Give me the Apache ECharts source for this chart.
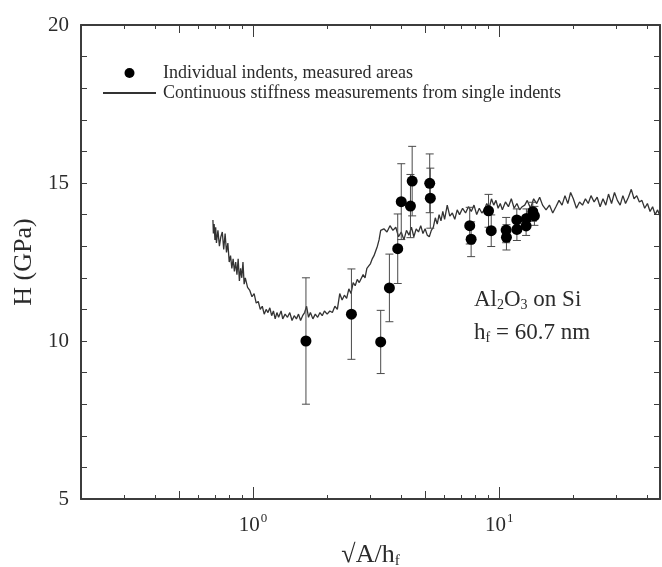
<!DOCTYPE html>
<html>
<head>
<meta charset="utf-8">
<script src="https://cdn.jsdelivr.net/npm/echarts@6/dist/echarts.min.js"></script>
<style>
  html, body { margin: 0; padding: 0; background: #fff; }
  #chart { width: 662px; height: 567px; }
</style>
</head>
<body>
<div id="chart"></div>
<script>
// Individual indents (measured contact areas): sqrt(A)/hf, hardness (GPa), error (GPa)
const indentX   = [1.64, 2.51, 3.30, 3.58, 3.87, 4.00, 4.36, 4.43, 5.22, 5.25, 7.59, 7.69, 9.05, 9.28, 10.67, 10.70, 11.79, 11.80, 12.86, 12.90, 13.69, 13.90];
const indentH   = [10.0, 10.85, 9.97, 11.68, 12.92, 14.41, 14.27, 15.06, 14.99, 14.52, 13.65, 13.22, 14.12, 13.49, 13.51, 13.28, 13.83, 13.53, 13.64, 13.88, 14.09, 13.96];
const indentErr = [2.0, 1.43, 1.0, 1.07, 1.1, 1.2, 1.0, 1.1, 0.93, 0.95, 0.58, 0.55, 0.52, 0.5, 0.4, 0.4, 0.35, 0.35, 0.3, 0.3, 0.3, 0.3];

// Continuous stiffness measurement trace
const csmX = [0.687, 0.69, 0.695, 0.70, 0.705, 0.71, 0.72, 0.73, 0.74, 0.75, 0.76, 0.77, 0.78, 0.79, 0.80, 0.81, 0.82, 0.83, 0.84, 0.85,
  0.86, 0.87, 0.88, 0.89, 0.90, 0.91, 0.92, 0.93, 0.95, 0.97, 0.99, 1.01, 1.03, 1.05, 1.07, 1.09, 1.11, 1.13, 1.15, 1.17,
  1.19, 1.21, 1.23, 1.25, 1.27, 1.30, 1.32, 1.35, 1.38, 1.41, 1.44, 1.47, 1.50, 1.53, 1.56, 1.59, 1.62, 1.65, 1.68, 1.71,
  1.75, 1.79, 1.83, 1.87, 1.91, 1.95, 2.0, 2.05, 2.1, 2.15, 2.2, 2.25, 2.3, 2.35, 2.4, 2.45, 2.5, 2.55, 2.6, 2.65,
  2.7, 2.8, 2.85, 2.9, 3.0, 3.05, 3.1, 3.15, 3.2, 3.25, 3.3, 3.4, 3.5, 3.6, 3.7, 3.8, 3.9, 4.0, 4.1, 4.2,
  4.3, 4.4, 4.5, 4.6, 4.7, 4.8, 4.9, 5.0, 5.1, 5.2, 5.3, 5.4, 5.5, 5.6, 5.7, 5.8, 5.9, 6.0, 6.15, 6.3,
  6.45, 6.6, 6.75, 6.9, 7.1, 7.3, 7.5, 7.7, 7.9, 8.1, 8.3, 8.5, 8.7, 8.9, 9.1, 9.3, 9.5, 9.7, 9.9, 10.1,
  10.3, 10.6, 10.9, 11.2, 11.5, 11.8, 12.1, 12.4, 12.7, 13.0, 13.4, 13.8, 14.2, 14.6, 15.0, 15.5, 16.0, 16.5, 17.0, 17.5,
  18.0, 18.5, 19.0, 19.5, 20.0, 20.6, 21.2, 21.8, 22.4, 23.0, 23.6, 24.3, 25.0, 25.7, 26.4, 27.1, 27.8, 28.6, 29.4, 30.2,
  31.0, 31.8, 32.6, 33.5, 34.4, 35.3, 36.2, 37.1, 38.0, 39.0, 40.0, 41.0, 42.0, 43.0, 44.0, 45.0];
const csmH = [13.83, 13.4, 13.7, 13.2, 13.6, 13.1, 13.5, 13.0, 13.3, 13.45, 12.9, 13.4, 12.8, 13.1, 12.5, 12.7, 12.3, 12.6, 12.2, 12.5,
  12.1, 12.6, 11.9, 12.3, 12.0, 12.5, 11.8, 12.0, 11.7, 11.6, 11.4, 11.5, 11.2, 11.25, 11.0, 11.1, 10.85, 11.0, 10.9, 11.05,
  10.8, 10.95, 10.7, 10.9, 10.75, 10.95, 10.7, 10.85, 10.75, 10.9, 10.65, 10.8, 10.7, 10.85, 10.65, 10.8, 10.9, 11.1, 10.75, 10.9,
  10.7, 10.85, 10.75, 10.9, 10.8, 10.95, 10.85, 10.95, 10.9, 11.1, 11.0, 11.5, 11.3, 11.45, 11.35, 11.65, 11.5, 11.85, 11.75, 11.95,
  11.85, 12.1, 12.0, 12.3, 12.45, 12.6, 12.7, 12.65, 13.0, 13.2, 13.5, 13.55, 13.45, 13.65, 13.5, 13.6, 13.3, 13.45, 13.2, 13.5,
  13.35, 13.6, 13.3, 13.55, 13.45, 13.65, 13.4, 13.55, 13.35, 13.3, 13.5, 13.6, 13.9, 13.7, 14.0, 13.8, 14.1, 13.85, 14.3, 13.95,
  14.05, 13.85, 14.15, 14.0, 14.2, 14.05, 14.25, 14.1, 14.3, 14.0, 14.2, 14.05, 14.15, 14.35, 14.2, 14.5, 14.3, 14.45, 14.2, 14.35,
  14.15, 14.4, 14.25, 14.5, 14.2, 14.35, 14.15, 14.25, 14.3, 14.45, 14.2, 14.5, 14.35, 14.55, 14.3, 14.15, 14.3, 14.05, 14.25, 14.45,
  14.3, 14.6, 14.35, 14.7, 14.5, 14.2, 14.4, 14.3, 14.5, 14.35, 14.6, 14.4, 14.55, 14.25, 14.5, 14.3, 14.65, 14.35, 14.7, 14.45,
  14.3, 14.6, 14.35, 14.55, 14.8, 14.5, 14.6, 14.4, 14.45, 14.2, 14.35, 14.1, 14.25, 14.0, 14.15, 13.95];

// Axis ranges and tick positions
const xRange = [0.2, 45];
const yRange = [5, 20];
const xMajorTicks = [1, 10];
const xMidTicks = [0.5, 5];
const xMinorTicks = [0.3, 0.4, 0.6, 0.7, 0.8, 0.9, 2, 3, 4, 6, 7, 8, 9, 20, 30, 40];

const legendDots = 'Individual indents, measured areas';
const legendLine = 'Continuous stiffness measurements from single indents';

const SERIF = '"Liberation Serif", "Times New Roman", serif';
const INK = '#2b2b2b';
const AXIS = '#3c3c3c';

const indentData = indentX.map((x, i) => [x, indentH[i], indentErr[i]]);
const csmData = csmX.map((x, i) => [x, csmH[i]]);

function logAxis(position, tickLen, ticks, opts) {
  return Object.assign({
    type: 'log', logBase: 10, min: xRange[0], max: xRange[1], position: position,
    gridIndex: 0,
    axisLine: { show: false },
    axisTick: { show: true, inside: true, length: tickLen, customValues: ticks,
      lineStyle: { color: AXIS, width: 1 } },
    axisLabel: { show: false },
    splitLine: { show: false },
    minorTick: { show: false }, minorSplitLine: { show: false }
  }, opts || {});
}

const xAxes = [
  logAxis('bottom', 12, xMajorTicks, {
    axisLine: { show: true, onZero: false, lineStyle: { color: AXIS, width: 2 } },
    axisLabel: {
      show: true, customValues: xMajorTicks, margin: 13,
      formatter: v => '{b|10}{s|' + Math.round(Math.log10(v)) + '}',
      rich: {
        b: { fontFamily: SERIF, fontSize: 21, color: INK },
        s: { fontFamily: SERIF, fontSize: 13, color: INK, padding: [0, 0, 14, 1] }
      }
    },
    name: '{r|√A/h}{f|f}', nameLocation: 'middle', nameGap: 43,
    nameTextStyle: {
      rich: {
        r: { fontFamily: SERIF, fontSize: 26, color: INK },
        f: { fontFamily: SERIF, fontSize: 15, color: INK, padding: [12, 0, 0, 0] }
      }
    }
  }),
  logAxis('bottom', 8, xMidTicks),
  logAxis('bottom', 4, xMinorTicks),
  logAxis('top', 12, xMajorTicks, {
    axisLine: { show: true, onZero: false, lineStyle: { color: AXIS, width: 2 } }
  }),
  logAxis('top', 8, xMidTicks),
  logAxis('top', 4, xMinorTicks)
];

function valAxis(position, withLabels) {
  return {
    type: 'value', min: yRange[0], max: yRange[1], interval: 5, position: position,
    axisLine: { show: true, onZero: false, lineStyle: { color: AXIS, width: 2 } },
    axisTick: { show: true, inside: true, length: 6, lineStyle: { color: AXIS, width: 1 } },
    minorTick: { show: true, splitNumber: 5, length: 6, lineStyle: { color: AXIS, width: 1 } },
    axisLabel: { show: withLabels, fontFamily: SERIF, fontSize: 21, color: INK, margin: 12 },
    splitLine: { show: false },
    name: withLabels ? 'H (GPa)' : '', nameLocation: 'middle', nameGap: 39,
    nameTextStyle: { fontFamily: SERIF, fontSize: 26, color: INK }
  };
}

const chart = echarts.init(document.getElementById('chart'), null, { renderer: 'canvas' });

chart.setOption({
  backgroundColor: '#ffffff',
  animation: false,
  grid: { left: 81, right: 2, top: 25, bottom: 68, containLabel: false, outerBoundsMode: 'none' },
  xAxis: xAxes,
  yAxis: [valAxis('left', true), valAxis('right', false)],
  legend: {
    orient: 'vertical', left: 97, top: 59,
    itemWidth: 53, itemHeight: 10, itemGap: 2,
    data: [
      { name: legendDots },
      { name: legendLine, itemStyle: { opacity: 0, borderWidth: 0 } }
    ],
    textStyle: { fontFamily: SERIF, fontSize: 18, color: INK, padding: [0, 0, 0, 2] },
    selectedMode: false
  },
  graphic: [
    {
      type: 'text', left: 474, top: 287,
      style: {
        text: '{t|Al}{d|2}{t|O}{d|3}{t| on Si}\n{t|h}{d|f}{t| = 60.7 nm}',
        rich: {
          t: { fontFamily: SERIF, fontSize: 23, fill: INK, lineHeight: 33 },
          d: { fontFamily: SERIF, fontSize: 14, fill: INK, padding: [11, 0, 0, 0], lineHeight: 33 }
        }
      }
    }
  ],
  series: [
    {
      name: legendLine, type: 'line', xAxisIndex: 0, yAxisIndex: 0,
      data: csmData, showSymbol: false, symbol: 'none',
      lineStyle: { color: '#333333', width: 1.3 },
      itemStyle: { color: '#333333' },
      z: 2
    },
    {
      name: 'errorbars', type: 'custom', xAxisIndex: 0, yAxisIndex: 0,
      data: indentData, z: 3,
      renderItem: function (params, api) {
        const x = api.value(0), y = api.value(1), e = api.value(2);
        const hi = api.coord([x, y + e]);
        const lo = api.coord([x, y - e]);
        const hw = 4;
        const st = { stroke: '#4a4a4a', lineWidth: 1 };
        return {
          type: 'group',
          children: [
            { type: 'line', shape: { x1: hi[0], y1: hi[1], x2: lo[0], y2: lo[1] }, style: st },
            { type: 'line', shape: { x1: hi[0] - hw, y1: hi[1], x2: hi[0] + hw, y2: hi[1] }, style: st },
            { type: 'line', shape: { x1: lo[0] - hw, y1: lo[1], x2: lo[0] + hw, y2: lo[1] }, style: st }
          ]
        };
      }
    },
    {
      name: legendDots, type: 'scatter', xAxisIndex: 0, yAxisIndex: 0,
      data: indentData.map(d => [d[0], d[1]]),
      symbol: 'circle', symbolSize: 11,
      itemStyle: { color: '#000000', opacity: 1 },
      z: 4
    }
  ]
});
</script>
</body>
</html>
